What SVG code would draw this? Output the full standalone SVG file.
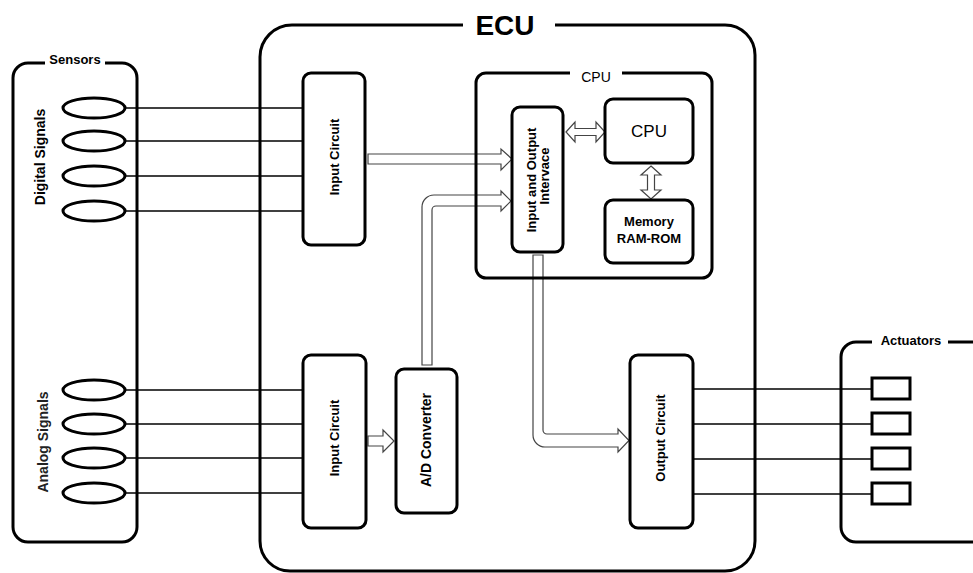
<svg xmlns="http://www.w3.org/2000/svg" width="973" height="573" viewBox="0 0 973 573">
<style>
.frame{fill:none;stroke:#000;stroke-width:3}
.box{fill:none;stroke:#000;stroke-width:3}
.wire{stroke:#000;stroke-width:1.3;fill:none}
.pipe{fill:#fff;stroke:#444;stroke-width:1.2;stroke-linejoin:miter}
.t{font-family:"Liberation Sans Narrow","Liberation Sans",Arial,sans-serif;font-weight:bold;fill:#000;text-anchor:middle}
</style>
<rect width="973" height="573" fill="#fff"/>
<g id="connectors">
  <g id="digital-wires">
    <line class="wire" x1="126" y1="108" x2="303" y2="108"/>
    <line class="wire" x1="126" y1="141" x2="303" y2="141"/>
    <line class="wire" x1="126" y1="176" x2="303" y2="176"/>
    <line class="wire" x1="126" y1="211" x2="303" y2="211"/>
  </g>
  <g id="analog-wires">
    <line class="wire" x1="126" y1="390" x2="303" y2="390"/>
    <line class="wire" x1="126" y1="424" x2="303" y2="424"/>
    <line class="wire" x1="126" y1="458" x2="303" y2="458"/>
    <line class="wire" x1="126" y1="493" x2="303" y2="493"/>
  </g>
  <g id="actuator-wires">
    <line class="wire" x1="693" y1="389" x2="872" y2="389"/>
    <line class="wire" x1="693" y1="424" x2="872" y2="424"/>
    <line class="wire" x1="693" y1="459" x2="872" y2="459"/>
    <line class="wire" x1="693" y1="494" x2="872" y2="494"/>
  </g>
  <path class="pipe" d="M368,154 H501 V149 L512,159 L501,170 V164 H368 Z"/>
  <path class="pipe" d="M422,365 V207 A12,12 0 0 1 434,195 H501 V191 L511,201 L501,211 V206 H436 A4,4 0 0 0 432,210 V365 Z"/>
  <path class="pipe" d="M533,255 V435 A12,12 0 0 0 545,447 H618 V452 L629,440.5 L618,429 V434 H547 A4,4 0 0 1 543,430 V255 Z"/>
  <path class="pipe" d="M368,436 H383 V430 L394,441 L383,452 V446 H368 Z"/>
  <path class="pipe" d="M566,132 L575,122 V128.5 H596 V122 L605,132 L596,142 V135.5 H575 V142 Z"/>
  <path class="pipe" d="M651,166 L661,175 H654.5 V190 H661 L651,199 L641,190 H647.5 V175 H641 Z"/>
</g>
<g id="sensors">
  <path class="frame" d="M45,63 H28 A15,15 0 0 0 13,78 V527 A15,15 0 0 0 28,542 H122 A15,15 0 0 0 137,527 V78 A15,15 0 0 0 122,63 H105"/>
  <text class="t" x="75" y="64" font-size="13">Sensors</text>
  <text class="t" font-size="14" transform="translate(45,157) rotate(-90)">Digital Signals</text>
  <text class="t" font-size="14" fill="#222" style="fill:#222" transform="translate(48,442) rotate(-90)">Analog Signals</text>
  <g class="box">
    <ellipse cx="94" cy="108" rx="31" ry="10"/>
    <ellipse cx="94" cy="141" rx="31" ry="10"/>
    <ellipse cx="94" cy="176" rx="31" ry="10"/>
    <ellipse cx="94" cy="211" rx="31" ry="10"/>
    <ellipse cx="94" cy="390" rx="31" ry="10"/>
    <ellipse cx="94" cy="424" rx="31" ry="10"/>
    <ellipse cx="94" cy="458" rx="31" ry="10"/>
    <ellipse cx="94" cy="493" rx="31" ry="10"/>
  </g>
</g>
<g id="ecu">
  <path class="frame" d="M463,25 H292 A32,32 0 0 0 260,57 V541 A30,30 0 0 0 290,571 H725 A30,30 0 0 0 755,541 V55 A30,30 0 0 0 725,25 H555"/>
  <text class="t" x="505" y="35" font-size="28" style="font-family:'Liberation Sans',Arial,sans-serif">ECU</text>
</g>
<g id="input-circuit-digital">
  <rect class="box" x="303" y="73" width="62" height="172" rx="8"/>
  <text class="t" font-size="13" transform="translate(339,157) rotate(-90)">Input Circuit</text>
</g>
<g id="input-circuit-analog">
  <rect class="box" x="303" y="355" width="63" height="173" rx="8"/>
  <text class="t" font-size="13" transform="translate(339,438) rotate(-90)">Input Circuit</text>
</g>
<g id="ad-converter">
  <rect class="box" x="396" y="369" width="61" height="144" rx="8"/>
  <text class="t" font-size="14" transform="translate(431,440) rotate(-90)">A/D Converter</text>
</g>
<g id="cpu-group">
  <path class="frame" d="M570,73 H486 A10,10 0 0 0 476,83 V268 A10,10 0 0 0 486,278 H702 A10,10 0 0 0 712,268 V83 A10,10 0 0 0 702,73 H622"/>
  <text class="t" x="596" y="82" font-size="14" style="font-weight:normal;font-family:'Liberation Sans',Arial,sans-serif">CPU</text>
</g>
<g id="io-interface">
  <rect class="box" x="512" y="107" width="51" height="145" rx="8"/>
  <text class="t" font-size="13" transform="translate(536,180) rotate(-90)">Input and Output</text>
  <text class="t" font-size="13" transform="translate(549,176) rotate(-90)">Intervace</text>
</g>
<g id="cpu">
  <rect class="box" x="605" y="99" width="88" height="64" rx="8"/>
  <text class="t" x="649" y="137" font-size="17" style="font-weight:normal;font-family:'Liberation Sans',Arial,sans-serif">CPU</text>
</g>
<g id="memory">
  <rect class="box" x="605" y="200" width="88" height="63" rx="8"/>
  <text class="t" x="649" y="226" font-size="13">Memory</text>
  <text class="t" x="649" y="243" font-size="13">RAM-ROM</text>
</g>
<g id="output-circuit">
  <rect class="box" x="630" y="355" width="63" height="173" rx="8"/>
  <text class="t" font-size="13" transform="translate(665,438) rotate(-90)">Output Circuit</text>
</g>
<g id="actuators">
  <path class="frame" d="M872,342 H856 A15,15 0 0 0 841,357 V527 A15,15 0 0 0 856,542 H990 M948,342 H990"/>
  <text class="t" x="911" y="345" font-size="13">Actuators</text>
  <g class="box">
    <rect x="872" y="378" width="38" height="21"/>
    <rect x="872" y="413" width="38" height="21"/>
    <rect x="872" y="448" width="38" height="21"/>
    <rect x="872" y="483" width="38" height="21"/>
  </g>
</g>
</svg>
